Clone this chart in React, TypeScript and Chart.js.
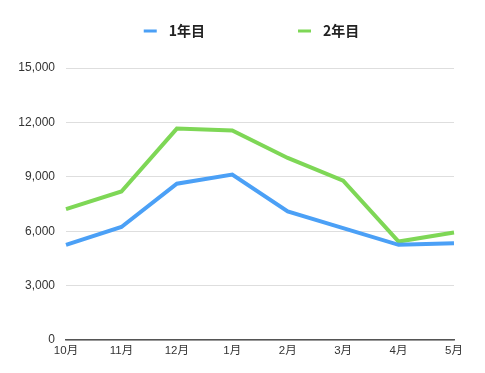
import React, { useEffect, useRef } from "react";
import { Chart, registerables } from "chart.js";

Chart.register(...registerables);

const months = ["10月", "11月", "12月", "1月", "2月", "3月", "4月", "5月"];
const year1 = [5250, 6230, 8620, 9120, 7090, 6170, 5250, 5340];
const year2 = [7220, 8190, 11660, 11560, 10040, 8790, 5430, 5930];
const seriesNames = ["1年目", "2年目"];
const seriesColors = ["#4ba0f6", "#7ed756"];
const yMin = 0;
const yMax = 15000;
const yStep = 3000;

const FONT = "'Noto Sans CJK JP', 'Noto Sans', sans-serif";
const TICK_FONT = "'Liberation Sans', 'Noto Sans CJK JP', sans-serif";

const legendPlugin = {
  id: "customLegend",
  afterDraw(chart: any) {
    const ctx = chart.ctx;
    ctx.save();
    ctx.font = `bold 14px ${FONT}`;
    const items = chart.data.datasets.map((ds: any) => ({
      label: ds.label,
      color: ds.borderColor,
      w: ctx.measureText(ds.label).width,
    }));
    const markerW = 13;
    const markerGap = 12;
    const itemGap = 93;
    const total =
      items.reduce((s: number, it: any) => s + markerW + markerGap + it.w, 0) +
      itemGap * (items.length - 1);
    let x = chart.width / 2 + 9 - total / 2;
    const y = 31;
    for (const it of items) {
      ctx.fillStyle = it.color;
      ctx.fillRect(x, y - 1.5, markerW, 3);
      x += markerW + markerGap;
      ctx.fillStyle = "#222";
      ctx.textBaseline = "middle";
      ctx.textAlign = "left";
      ctx.fillText(it.label, x, y);
      x += it.w + itemGap;
    }
    ctx.restore();
  },
};

export default function App() {
  const ref = useRef<HTMLCanvasElement | null>(null);

  useEffect(() => {
    if (!ref.current) return;
    const chart = new Chart(ref.current, {
      type: "line",
      data: {
        labels: months,
        datasets: [
          {
            label: seriesNames[0],
            data: year1,
            borderColor: seriesColors[0],
            backgroundColor: seriesColors[0],
            borderWidth: 4,
            pointRadius: 0,
            tension: 0,
          },
          {
            label: seriesNames[1],
            data: year2,
            borderColor: seriesColors[1],
            backgroundColor: seriesColors[1],
            borderWidth: 4,
            pointRadius: 0,
            tension: 0,
          },
        ],
      },
      options: {
        animation: false,
        responsive: true,
        maintainAspectRatio: false,
        locale: "en-US",
        layout: { padding: { top: 68, right: 31, bottom: 0, left: 0 } },
        plugins: {
          legend: { display: false },
          tooltip: { enabled: false },
        },
        scales: {
          x: {
            grid: { display: false, drawTicks: false },
            border: { display: true, color: "#555", width: 1.5 },
            ticks: {
              color: "#333",
              font: { size: 11.5, family: TICK_FONT },
              padding: 4,
              maxRotation: 0,
              autoSkip: false,
            },
            afterFit: (s: any) => {
              s.height = 33;
            },
          },
          y: {
            min: yMin,
            max: yMax,
            ticks: {
              stepSize: yStep,
              color: "#333",
              font: { size: 12, family: TICK_FONT },
              padding: 11,
            },
            grid: { color: "#dedede", drawTicks: false, lineWidth: 1 },
            border: { display: false },
            afterFit: (s: any) => {
              s.width = 66;
            },
          },
        },
      },
      plugins: [legendPlugin],
    });
    return () => chart.destroy();
  }, []);

  return (
    <div style={{ position: "absolute", left: 0, top: 0, width: 485, height: 373, background: "#fff" }}>
      <canvas ref={ref} />
    </div>
  );
}
